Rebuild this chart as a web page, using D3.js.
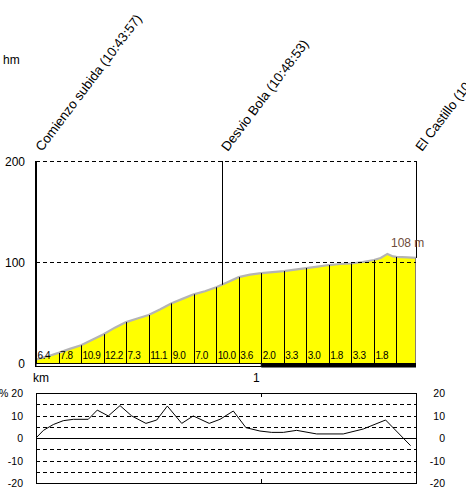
<!DOCTYPE html>
<html><head><meta charset="utf-8">
<script src="https://cdn.jsdelivr.net/npm/d3@7"></script>
<style>
body{margin:0;background:#fff}
text{font-family:"Liberation Sans",Arial,sans-serif;fill:#000}
</style>
</head><body>
<svg id="c" width="466" height="491"></svg>
<script>
// ---- data ----
const totalKm = 1.687;
const segmentStarts = [0,0.1,0.2,0.3,0.4,0.5,0.6,0.7,0.8,0.9,1.0,1.1,1.2,1.3,1.4,1.5,1.6];
const segmentGrades = ["6.4","7.8","10.9","12.2","7.3","11.1","9.0","7.0","10.0","3.6","2.0","3.3","3.0","1.8","3.3","1.8",""];
const profileKm = [0,0.05,0.1,0.15,0.2,0.25,0.3,0.35,0.4,0.45,0.5,0.55,0.6,0.65,0.7,0.75,0.8,0.85,0.9,0.95,1.0,1.05,1.1,1.15,1.2,1.25,1.3,1.35,1.4,1.45,1.5,1.53,1.56,1.585,1.6,1.65,1.687];
const profileElev = [3.5,6.5,10,14,17.5,23,28.5,35,40.5,44,47.5,53,59,63.5,68,71,75,80,85,87.5,89,90,91,92.5,94,95.5,97,98,98.5,100,102,104,108,105.5,105,104.5,104];
const gradeKm = [0,0.033,0.077,0.121,0.166,0.232,0.272,0.321,0.373,0.425,0.488,0.536,0.583,0.647,0.698,0.769,0.817,0.876,0.932,0.994,1.046,1.098,1.157,1.246,1.364,1.453,1.552,1.663];
const gradeVal = [0,3.4,6,7.7,8.3,8.3,12.4,9.8,14.4,9.8,6.5,8,14.2,6.5,9.8,6.5,8.3,12,4.6,3.1,2.5,2.5,3.4,1.8,1.8,4,8,-3.4];
const markerKm = [0,0.825,1.687];
const markerLabels = ["Comienzo subida (10:43:57)","Desvio Bola (10:48:53)","El Castillo (10:56:02)"];
const elevTicks = [0,100,200];
const elevGrid = [100,200];
const gradeTicks = [20,10,0,-10,-20];
const gradeGrid = [15,10,5,-5,-10,-15];
const kmTicks = [1];
const maxLabel = "108 m";

// ---- scales ----
const svg = d3.select("#c");
const x = d3.scaleLinear().domain([0,totalKm]).range([36,416]);
const yE = d3.scaleLinear().domain([0,200]).range([363,161]);
const yG = d3.scaleLinear().domain([-20,20]).range([483,393]);
const profile = profileKm.map((k,i)=>({k, e:profileElev[i]}));
const elevAt = k => {
  const i = d3.bisector(d=>d.k).left(profile, k);
  if (i<=0) return profile[0].e;
  if (i>=profile.length) return profile[profile.length-1].e;
  const a=profile[i-1], b=profile[i];
  return a.e + (b.e-a.e)*(k-a.k)/(b.k-a.k);
};

// area
svg.append("path").datum(profile)
  .attr("d", d3.area().x(d=>x(d.k)).y0(yE(0)).y1(d=>yE(d.e)))
  .attr("fill","#ffff00");
svg.append("path").datum(profile)
  .attr("d", d3.line().x(d=>x(d.k)).y(d=>yE(d.e)))
  .attr("fill","none").attr("stroke","#b4b4b4").attr("stroke-width",2.2);
svg.append("line").attr("x1",x(totalKm)-0.5).attr("x2",x(totalKm)-0.5)
  .attr("y1",yE(elevAt(totalKm))).attr("y2",yE(0)).attr("stroke","#8a8070").attr("stroke-width",1);

// grid upper
svg.selectAll(".ge").data(elevGrid).join("line")
  .attr("x1",x(0)).attr("x2",x(totalKm)).attr("y1",d=>Math.round(yE(d))+0.5).attr("y2",d=>Math.round(yE(d))+0.5)
  .attr("stroke","#000").attr("stroke-dasharray","4,3");

// segment lines + labels
svg.selectAll(".seg").data(segmentStarts.slice(1)).join("line")
  .attr("x1",d=>Math.round(x(d))+0.5).attr("x2",d=>Math.round(x(d))+0.5)
  .attr("y1",yE(0)).attr("y2",d=>yE(elevAt(d))).attr("stroke","#000");
svg.selectAll(".sl").data(segmentStarts).join("text")
  .attr("x",d=>x(d)+1.5).attr("y",359).attr("font-size","10px")
  .style("letter-spacing","-0.4px")
  .text((d,i)=>segmentGrades[i]);

// markers
markerKm.forEach((k,i)=>{
  if(i>0) svg.append("line").attr("x1",Math.round(x(k))+0.5).attr("x2",Math.round(x(k))+0.5)
    .attr("y1",yE(200)).attr("y2",yE(elevAt(k))).attr("stroke","#000");
  svg.append("text").attr("transform",`translate(${x(k)+6},152) rotate(-53)`)
    .attr("font-size","13.3px").text(markerLabels[i]);
});

// left axis
svg.append("line").attr("x1",x(0)).attr("x2",x(0)).attr("y1",yE(200)).attr("y2",367)
  .attr("stroke","#000").attr("stroke-width",2);
svg.selectAll(".et").data(elevTicks).join("text")
  .attr("x",25).attr("y",d=>yE(d)+4.5).attr("text-anchor","end").attr("font-size","12px").text(d=>d);
svg.append("text").attr("x",3).attr("y",64).attr("font-size","12px").text("hm");

// km bar
svg.append("rect").attr("x",x(0)).attr("y",363.5).attr("width",x(1)-x(0)).attr("height",3)
  .attr("fill","#fff").attr("stroke","#000");
svg.append("rect").attr("x",x(1)).attr("y",363).attr("width",x(totalKm)-x(1)).attr("height",4.5)
  .attr("fill","#000");
svg.append("text").attr("x",33).attr("y",382).attr("font-size","12px").text("km");
svg.selectAll(".kt").data(kmTicks).join("text")
  .attr("x",d=>x(d)-5).attr("y",382).attr("text-anchor","middle").attr("font-size","12px").text(d=>d);

// max label
const maxE = d3.max(profileElev);
svg.append("text").attr("x",391).attr("y",yE(maxE)-7).attr("font-size","12px")
  .style("fill","#6e4b3a").text(maxLabel);

// lower chart
svg.selectAll(".gg").data(gradeGrid).join("line")
  .attr("x1",x(0)).attr("x2",x(totalKm)).attr("y1",d=>Math.round(yG(d))+0.5).attr("y2",d=>Math.round(yG(d))+0.5)
  .attr("stroke","#000").attr("stroke-dasharray","4,3");
svg.append("line").attr("x1",x(0)).attr("x2",x(totalKm)).attr("y1",Math.round(yG(0))+0.5).attr("y2",Math.round(yG(0))+0.5)
  .attr("stroke","#000");
svg.append("rect").attr("x",x(0)+0.5).attr("y",yG(20)+0.5).attr("width",x(totalKm)-x(0)).attr("height",yG(-20)-yG(20))
  .attr("fill","none").attr("stroke","#000");
kmTicks.forEach(k=>{
  svg.append("line").attr("x1",Math.round(x(k))+0.5).attr("x2",Math.round(x(k))+0.5).attr("y1",yG(20)).attr("y2",yG(20)+4).attr("stroke","#000");
  svg.append("line").attr("x1",Math.round(x(k))+0.5).attr("x2",Math.round(x(k))+0.5).attr("y1",yG(-20)-4).attr("y2",yG(-20)).attr("stroke","#000");
});
svg.append("path").datum(gradeKm.map((k,i)=>({k,g:gradeVal[i]})))
  .attr("d", d3.line().x(d=>x(d.k)).y(d=>yG(d.g)))
  .attr("fill","none").attr("stroke","#000").attr("stroke-width",1);
svg.selectAll(".gl").data(gradeTicks).join("text")
  .attr("x",23).attr("y",d=>yG(d)+4).attr("text-anchor","end").attr("font-size","10.5px")
  .text(d=>d===20?"% 20":d);
svg.selectAll(".gr").data(gradeTicks).join("text")
  .attr("x",445).attr("y",d=>yG(d)+4).attr("text-anchor","end").attr("font-size","10.5px")
  .text(d=>d);
</script>
</body></html>
